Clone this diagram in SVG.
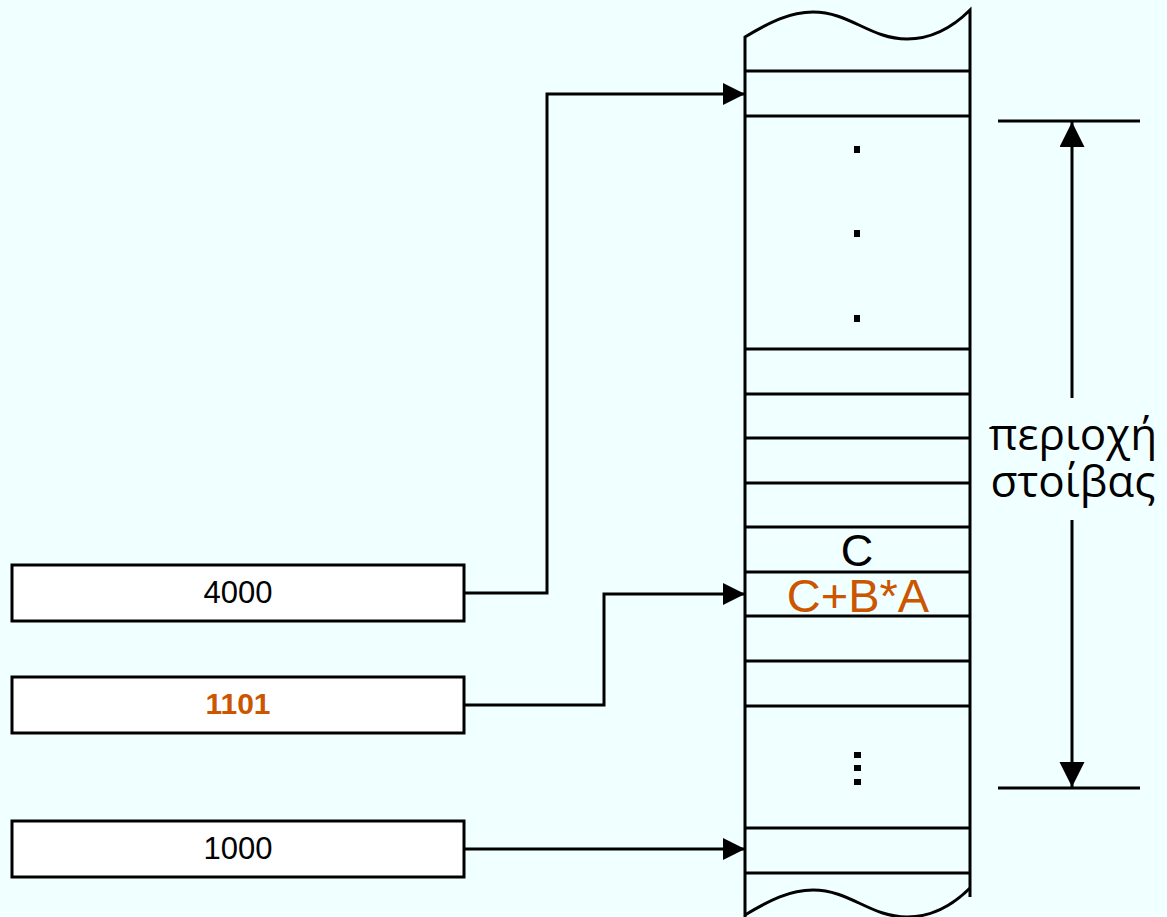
<svg xmlns="http://www.w3.org/2000/svg" width="1167" height="917" viewBox="0 0 1167 917">
<defs>
<marker id="arr" markerWidth="24" markerHeight="22" refX="22" refY="11" orient="auto" markerUnits="userSpaceOnUse"><path d="M0,0 L22,11 L0,22 Z" fill="#000"/></marker>
<marker id="arr2" markerWidth="26" markerHeight="26" refX="25" refY="12.5" orient="auto" markerUnits="userSpaceOnUse"><path d="M0,0 L25,12.5 L0,25 Z" fill="#000"/></marker>
</defs>
<style>
.ln{stroke:#000;stroke-width:3;fill:none}
.box{fill:#fff;stroke:#000;stroke-width:3}
.t{font-family:"Liberation Sans",Arial,sans-serif;text-anchor:middle}
.or{fill:#CC5500}
.gr{font-family:"Open Sans","DejaVu Sans",sans-serif;text-anchor:middle;font-size:44px}
</style>
<rect width="1167" height="917" fill="#F0FFFF"/>
<g id="memory">
<path class="ln" d="M745,917 L745,37 C770,22 790,12 813,12 C850,12 870,39 907,39 C935,39 955,25 970,10 L970,897"/>
<path class="ln" d="M745,915 C770,900 790,890 813,890 C850,890 870,917 907,917 C935,917 955,903 970,888"/>
<g class="ln">
<line x1="745" y1="71" x2="970" y2="71"/>
<line x1="745" y1="116" x2="970" y2="116"/>
<line x1="745" y1="349" x2="970" y2="349"/>
<line x1="745" y1="394" x2="970" y2="394"/>
<line x1="745" y1="438" x2="970" y2="438"/>
<line x1="745" y1="483" x2="970" y2="483"/>
<line x1="745" y1="527" x2="970" y2="527"/>
<line x1="745" y1="572" x2="970" y2="572"/>
<line x1="745" y1="616" x2="970" y2="616"/>
<line x1="745" y1="661" x2="970" y2="661"/>
<line x1="745" y1="706" x2="970" y2="706"/>
<line x1="745" y1="828" x2="970" y2="828"/>
<line x1="745" y1="873" x2="970" y2="873"/>
</g>
<g fill="#000">
<rect x="854" y="146" width="6" height="7"/>
<rect x="854" y="230" width="6" height="7"/>
<rect x="854" y="315" width="6" height="7"/>
<rect x="854" y="752" width="7" height="6"/>
<rect x="854" y="765" width="7" height="6"/>
<rect x="854" y="779" width="7" height="6"/>
</g>
<text class="t" x="857" y="566" font-size="45">C</text>
<text class="t or" x="858" y="612" font-size="47">C+B*A</text>
</g>
<g id="box4000">
<rect class="box" x="12" y="565" width="452" height="56"/>
<text class="t" x="238" y="603" font-size="31">4000</text>
</g>
<g id="box1101">
<rect class="box" x="12" y="677" width="452" height="56"/>
<text class="t or" x="238" y="714" font-size="30" font-weight="bold">1101</text>
</g>
<g id="box1000">
<rect class="box" x="12" y="821" width="452" height="56"/>
<text class="t" x="238" y="859" font-size="31">1000</text>
</g>
<g id="connectors">
<polyline class="ln" points="464,593 547,593 547,94 745,94" marker-end="url(#arr)"/>
<polyline class="ln" points="464,705 604,705 604,594 745,594" marker-end="url(#arr)"/>
<polyline class="ln" points="464,849 745,849" marker-end="url(#arr)"/>
</g>
<g id="dimension">
<line class="ln" x1="998" y1="121" x2="1140" y2="121"/>
<line class="ln" x1="998" y1="788" x2="1140" y2="788"/>
<line class="ln" x1="1072" y1="398" x2="1072" y2="122" marker-end="url(#arr2)"/>
<line class="ln" x1="1072" y1="520" x2="1072" y2="787" marker-end="url(#arr2)"/>
<text class="gr" x="1073" y="450">περιοχή</text>
<text class="gr" x="1073" y="497">στοίβας</text>
</g>
</svg>
